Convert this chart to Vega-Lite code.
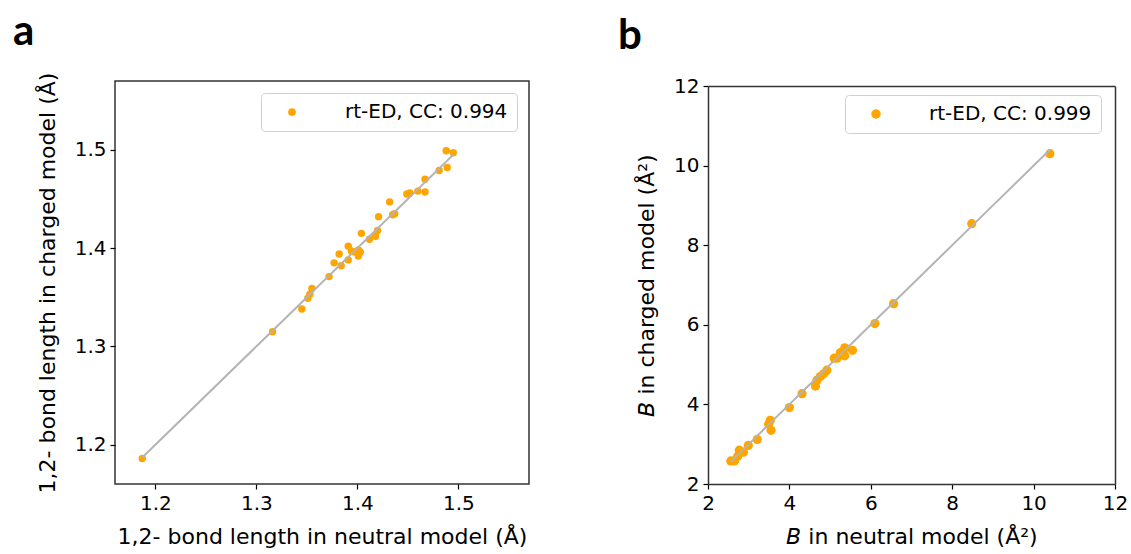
{
  "$schema": "https://vega.github.io/schema/vega-lite/v6.json",
  "padding": {"left": 12, "top": 10, "right": 16, "bottom": 0},
  "background": "white",
  "spacing": 88,
  "datasets": {
    "a": [
      {"neutral": 1.187, "charged": 1.186, "series": "rt-ED, CC: 0.994"},
      {"neutral": 1.316, "charged": 1.315, "series": "rt-ED, CC: 0.994"},
      {"neutral": 1.345, "charged": 1.338, "series": "rt-ED, CC: 0.994"},
      {"neutral": 1.351, "charged": 1.349, "series": "rt-ED, CC: 0.994"},
      {"neutral": 1.353, "charged": 1.353, "series": "rt-ED, CC: 0.994"},
      {"neutral": 1.355, "charged": 1.359, "series": "rt-ED, CC: 0.994"},
      {"neutral": 1.372, "charged": 1.371, "series": "rt-ED, CC: 0.994"},
      {"neutral": 1.377, "charged": 1.385, "series": "rt-ED, CC: 0.994"},
      {"neutral": 1.382, "charged": 1.394, "series": "rt-ED, CC: 0.994"},
      {"neutral": 1.384, "charged": 1.382, "series": "rt-ED, CC: 0.994"},
      {"neutral": 1.391, "charged": 1.388, "series": "rt-ED, CC: 0.994"},
      {"neutral": 1.391, "charged": 1.402, "series": "rt-ED, CC: 0.994"},
      {"neutral": 1.394, "charged": 1.397, "series": "rt-ED, CC: 0.994"},
      {"neutral": 1.397, "charged": 1.396, "series": "rt-ED, CC: 0.994"},
      {"neutral": 1.401, "charged": 1.392, "series": "rt-ED, CC: 0.994"},
      {"neutral": 1.403, "charged": 1.396, "series": "rt-ED, CC: 0.994"},
      {"neutral": 1.401, "charged": 1.398, "series": "rt-ED, CC: 0.994"},
      {"neutral": 1.404, "charged": 1.415, "series": "rt-ED, CC: 0.994"},
      {"neutral": 1.412, "charged": 1.409, "series": "rt-ED, CC: 0.994"},
      {"neutral": 1.418, "charged": 1.412, "series": "rt-ED, CC: 0.994"},
      {"neutral": 1.420, "charged": 1.418, "series": "rt-ED, CC: 0.994"},
      {"neutral": 1.421, "charged": 1.432, "series": "rt-ED, CC: 0.994"},
      {"neutral": 1.432, "charged": 1.447, "series": "rt-ED, CC: 0.994"},
      {"neutral": 1.435, "charged": 1.434, "series": "rt-ED, CC: 0.994"},
      {"neutral": 1.437, "charged": 1.435, "series": "rt-ED, CC: 0.994"},
      {"neutral": 1.449, "charged": 1.455, "series": "rt-ED, CC: 0.994"},
      {"neutral": 1.452, "charged": 1.456, "series": "rt-ED, CC: 0.994"},
      {"neutral": 1.460, "charged": 1.458, "series": "rt-ED, CC: 0.994"},
      {"neutral": 1.467, "charged": 1.457, "series": "rt-ED, CC: 0.994"},
      {"neutral": 1.467, "charged": 1.470, "series": "rt-ED, CC: 0.994"},
      {"neutral": 1.481, "charged": 1.479, "series": "rt-ED, CC: 0.994"},
      {"neutral": 1.489, "charged": 1.482, "series": "rt-ED, CC: 0.994"},
      {"neutral": 1.488, "charged": 1.499, "series": "rt-ED, CC: 0.994"},
      {"neutral": 1.495, "charged": 1.497, "series": "rt-ED, CC: 0.994"}
    ],
    "b": [
      {"neutral": 10.40, "charged": 10.30, "series": "rt-ED, CC: 0.999"},
      {"neutral": 8.48, "charged": 8.54, "series": "rt-ED, CC: 0.999"},
      {"neutral": 6.56, "charged": 6.53, "series": "rt-ED, CC: 0.999"},
      {"neutral": 6.10, "charged": 6.03, "series": "rt-ED, CC: 0.999"},
      {"neutral": 5.55, "charged": 5.36, "series": "rt-ED, CC: 0.999"},
      {"neutral": 5.36, "charged": 5.42, "series": "rt-ED, CC: 0.999"},
      {"neutral": 5.36, "charged": 5.22, "series": "rt-ED, CC: 0.999"},
      {"neutral": 5.25, "charged": 5.30, "series": "rt-ED, CC: 0.999"},
      {"neutral": 5.17, "charged": 5.16, "series": "rt-ED, CC: 0.999"},
      {"neutral": 5.10, "charged": 5.16, "series": "rt-ED, CC: 0.999"},
      {"neutral": 4.92, "charged": 4.86, "series": "rt-ED, CC: 0.999"},
      {"neutral": 4.84, "charged": 4.77, "series": "rt-ED, CC: 0.999"},
      {"neutral": 4.76, "charged": 4.70, "series": "rt-ED, CC: 0.999"},
      {"neutral": 4.68, "charged": 4.61, "series": "rt-ED, CC: 0.999"},
      {"neutral": 4.64, "charged": 4.46, "series": "rt-ED, CC: 0.999"},
      {"neutral": 4.31, "charged": 4.27, "series": "rt-ED, CC: 0.999"},
      {"neutral": 4.00, "charged": 3.92, "series": "rt-ED, CC: 0.999"},
      {"neutral": 3.53, "charged": 3.60, "series": "rt-ED, CC: 0.999"},
      {"neutral": 3.49, "charged": 3.50, "series": "rt-ED, CC: 0.999"},
      {"neutral": 3.55, "charged": 3.35, "series": "rt-ED, CC: 0.999"},
      {"neutral": 3.21, "charged": 3.12, "series": "rt-ED, CC: 0.999"},
      {"neutral": 2.99, "charged": 2.97, "series": "rt-ED, CC: 0.999"},
      {"neutral": 2.87, "charged": 2.80, "series": "rt-ED, CC: 0.999"},
      {"neutral": 2.77, "charged": 2.85, "series": "rt-ED, CC: 0.999"},
      {"neutral": 2.73, "charged": 2.70, "series": "rt-ED, CC: 0.999"},
      {"neutral": 2.65, "charged": 2.58, "series": "rt-ED, CC: 0.999"},
      {"neutral": 2.56, "charged": 2.58, "series": "rt-ED, CC: 0.999"}
    ]
  },
  "config": {
    "font": "DejaVu Sans",
    "view": {"stroke": "#333333", "strokeWidth": 1.5},
    "axis": {
      "grid": false, "domain": false, "domainColor": "#333333", "domainWidth": 1.5,
      "tickColor": "#000000", "tickSize": 5, "tickWidth": 1.2,
      "labelColor": "#000000", "labelFontSize": 20, "labelFont": "DejaVu Sans",
      "labelPadding": 4, "labelFlush": false, "labelOverlap": false,
      "titleFont": "DejaVu Sans", "titleFontSize": 22, "titleFontWeight": "normal", "titleColor": "#000000"
    },
    "axisX": {"titlePadding": 13},
    "axisY": {"titlePadding": 15},
    "legend": {
      "labelFontSize": 20, "labelFont": "DejaVu Sans", "labelColor": "#000000", "labelLimit": 400,
      "strokeColor": "#d0d0d0", "fillColor": "#ffffff", "cornerRadius": 4,
      "padding": 9, "symbolType": "circle", "symbolOffset": 12, "labelOffset": 43,
      "offset": 12, "orient": "top-right", "title": null
    },
    "title": {"font": "Lato", "fontWeight": "bold", "fontSize": 42, "color": "#000000", "anchor": "start", "frame": "group", "baseline": "alphabetic"}
  },
  "resolve": {"scale": {"color": "independent"}, "legend": {"color": "independent"}},
  "hconcat": [
    {
      "width": 414, "height": 403,
      "title": {"text": "a", "dx": -102, "offset": 18},
      "data": {"name": "a"},
      "encoding": {
        "x": {"field": "neutral", "type": "quantitative",
          "scale": {"domain": [1.16, 1.57], "nice": false, "zero": false},
          "axis": {"values": [1.2, 1.3, 1.4, 1.5], "format": ".1f", "title": "1,2- bond length in neutral model (Å)"}}
      },
      "layer": [
        {
          "mark": {"type": "point", "filled": true, "size": 55, "opacity": 1},
          "encoding": {
            "y": {"field": "charged", "type": "quantitative",
              "scale": {"domain": [1.16, 1.57], "nice": false, "zero": false},
              "axis": {"values": [1.2, 1.3, 1.4, 1.5], "format": ".1f", "title": "1,2- bond length in charged model (Å)"}},
            "color": {"field": "series", "type": "nominal", "scale": {"range": ["#FFA500"]},
              "legend": {"symbolSize": 60}}
          }
        },
        {
          "mark": {"type": "line", "color": "#b4b4b4", "strokeWidth": 2},
          "encoding": {
            "y": {"field": "neutral", "type": "quantitative",
              "scale": {"domain": [1.16, 1.57], "nice": false, "zero": false},
              "axis": {"values": [1.2, 1.3, 1.4, 1.5], "format": ".1f", "title": "1,2- bond length in charged model (Å)"}}
          }
        }
      ]
    },
    {
      "width": 407, "height": 403,
      "view": {"stroke": null},
      "title": {"text": "b", "dx": -90, "offset": 18},
      "data": {"name": "b"},
      "resolve": {"axis": {"x": "independent", "y": "independent"}},
      "layer": [
        {
          "mark": {"type": "point", "filled": true, "size": 85, "opacity": 1},
          "encoding": {
            "x": {"field": "neutral", "type": "quantitative",
              "scale": {"domain": [2, 12], "nice": false, "zero": false},
              "axis": {"values": [2, 4, 6, 8, 10, 12], "format": "d", "domain": true, "title": "𝘉 in neutral model (Å²)"}},
            "y": {"field": "charged", "type": "quantitative",
              "scale": {"domain": [2, 12], "nice": false, "zero": false, "range": [403, 5]},
              "axis": {"values": [2, 4, 6, 8, 10, 12], "format": "d", "domain": true, "title": "𝘉 in charged model (Å²)"}},
            "color": {"field": "series", "type": "nominal", "scale": {"range": ["#FFA500"]},
              "legend": {"symbolSize": 90, "offset": 14}}
          }
        },
        {
          "mark": {"type": "line", "color": "#b4b4b4", "strokeWidth": 2},
          "encoding": {
            "x": {"field": "neutral", "type": "quantitative",
              "scale": {"domain": [2, 12], "nice": false, "zero": false},
              "axis": {"orient": "top", "domain": true, "ticks": false, "labels": false, "title": null, "offset": -5}},
            "y": {"field": "neutral", "type": "quantitative",
              "scale": {"domain": [2, 12], "nice": false, "zero": false, "range": [403, 5]},
              "axis": {"orient": "right", "domain": true, "ticks": false, "labels": false, "title": null}}
          }
        }
      ]
    }
  ]
}
